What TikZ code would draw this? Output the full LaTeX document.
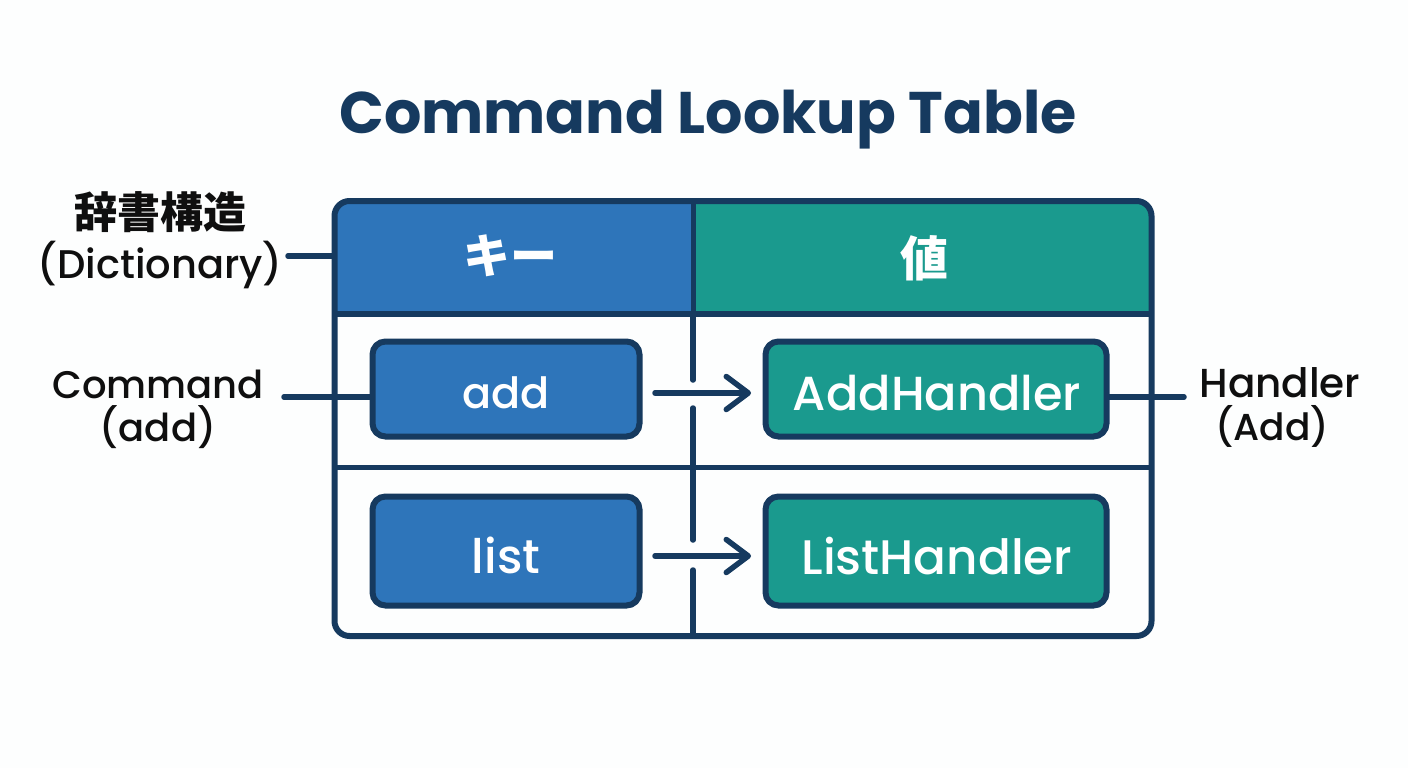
\documentclass[tikz,border=0pt]{standalone}
\usepackage{fontspec}
\usetikzlibrary{arrows.meta}
\setmainfont{Poppins}
\newfontfamily\med{Poppins Medium}
\newfontfamily\cjk{Noto Sans CJK JP}
\definecolor{navy}{HTML}{163A5F}
\definecolor{keyblue}{HTML}{2E75BA}
\definecolor{valteal}{HTML}{1A9A8E}
\definecolor{ink}{HTML}{0F0F0F}
\definecolor{paper}{HTML}{FDFEFE}
\tikzset{
  x=1pt,y=-1pt,
  rule/.style={draw=navy,line width=5pt},
  link/.style={draw=navy,line width=5.5pt,line cap=round},
  keybox/.style={draw=navy,line width=6pt,fill=keyblue,rounded corners=13pt,inner sep=0pt},
  valbox/.style={draw=navy,line width=6pt,fill=valteal,rounded corners=13pt,inner sep=0pt},
  boxtext/.style={text=white,inner sep=0pt,font=\med},
  side/.style={text=ink,align=center,inner sep=0pt},
  headtext/.style={text=white,inner sep=0pt},
  hook/.style={-{Straight Barb[length=22pt,width=33pt,line width=5.5pt,round]}}
}
\begin{document}
\begin{tikzpicture}
\useasboundingbox (0,0) rectangle (1408,768);
\fill[paper] (0,0) rectangle (1408,768);
% header fills
\begin{scope}
\clip[rounded corners=15pt] (334.5,201) rectangle (1151.5,636);
\fill[keyblue] (334,200) rectangle (693,313);
\fill[valteal] (693,200) rectangle (1152,313);
\end{scope}
% table frame as named node
\node[draw=navy,line width=6pt,rounded corners=15pt,minimum width=817pt,minimum height=435pt,inner sep=0pt,anchor=north west] (frame) at (331.5,198) {};
\coordinate (headL) at (334.5,314);
\coordinate (headR) at (1151.5,314);
\coordinate (rowL) at (334.5,467);
\coordinate (rowR) at (1151.5,467);
\draw[rule,line width=6pt] (headL) -- (headR);
\draw[rule] (rowL) -- (rowR);
% vertical divider with gaps
\coordinate (d0) at (693,200);
\coordinate (d1) at (693,380);
\coordinate (d2) at (693,408);
\coordinate (d3) at (693,540);
\coordinate (d4) at (693,570);
\coordinate (d5) at (693,636);
\draw[rule] (d0) -- (693,313);
\draw[link] (693,313) -- (d1);
\draw[link] (d2) -- (d3);
\draw[link] (d4) -- (d5);
% header text
\node[headtext,font=\cjk\bfseries\fontsize{47}{50}\selectfont] (hkey) at (510,256) {キー};
\node[headtext,font=\cjk\bfseries\fontsize{48}{50}\selectfont] (hval) at (924,258) {値};
% boxes
\node[keybox,minimum width=267pt,minimum height=95pt] (add) at (506,389) {};
\node[keybox,minimum width=267pt,minimum height=109pt] (list) at (506,551) {};
\node[valbox,minimum width=341pt,minimum height=95pt] (addh) at (936,389) {};
\node[valbox,minimum width=341pt,minimum height=109pt] (listh) at (936,551) {};
\node[boxtext,font=\med\fontsize{43}{46}\selectfont] (addt) at (506,393) {add};
\node[boxtext,font=\med\fontsize{47.5}{50}\selectfont] (listt) at (506,555) {list};
\node[boxtext,font=\med\fontsize{47.8}{50}\selectfont] (addht) at (937,393) {AddHandler};
\node[boxtext,font=\med\fontsize{48.5}{50}\selectfont] (listht) at (937,556) {ListHandler};
% arrows
\coordinate (a1s) at (655,393);
\coordinate (a1e) at (751,393);
\coordinate (a2s) at (655,556);
\coordinate (a2e) at (751,556);
\draw[link,hook] (a1s) -- (a1e);
\draw[link,hook] (a2s) -- (a2e);
% side labels
\node[side,font=\cjk\bfseries\fontsize{43}{46}\selectfont] (dictj) at (160,212) {辞書構造};
\node[side,font=\med\fontsize{40}{46}\selectfont] (dict) at (160,265) {(Dictionary)};
\node[side,font=\med\fontsize{38.5}{43}\selectfont] (cmd) at (158,409) {Command\\(add)};
\node[side,font=\med\fontsize{40.5}{43}\selectfont] (hnd) at (1280,383) {Handler};
\node[side,font=\med\fontsize{37.5}{43}\selectfont] (hnd2) at (1272,426) {(Add)};
\coordinate (dictEnd) at (288,256);
\coordinate (cmdEnd) at (284,397);
\coordinate (hndEnd) at (1184,397);
\draw[link] (dictEnd) -- (dictEnd -| frame.west);
\draw[link] (cmdEnd) -- (cmdEnd -| add.west);
\draw[link] (addh.east |- hndEnd) -- (hndEnd);
% title
\node[inner sep=0pt,text=navy,font=\bfseries\fontsize{58.7}{70}\selectfont] (title) at (708,120) {Command Lookup Table};
\end{tikzpicture}
\end{document}
